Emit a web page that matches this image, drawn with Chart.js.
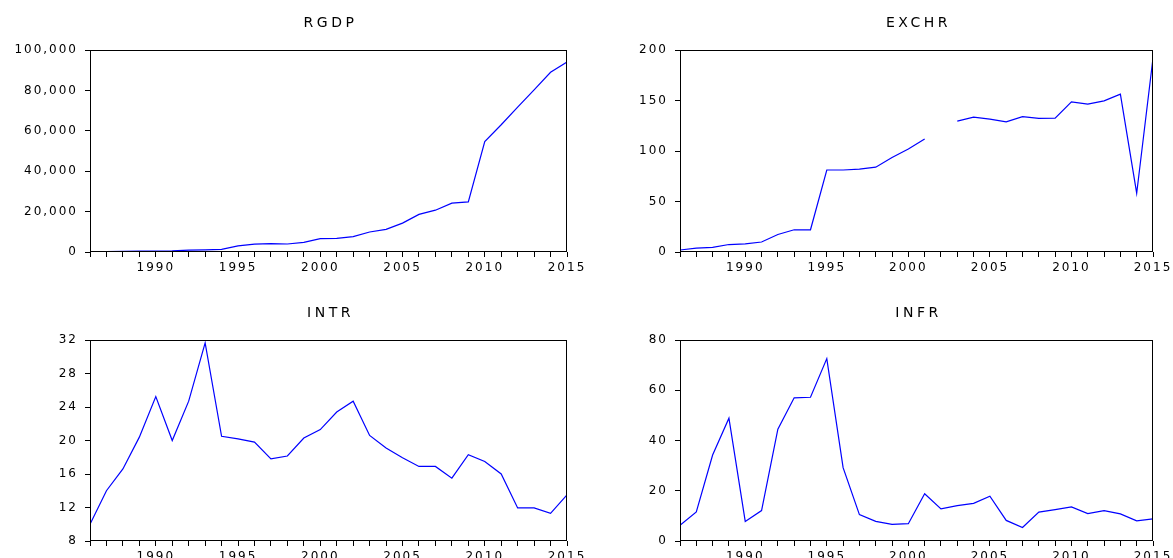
<!DOCTYPE html>
<html>
<head>
    <title>RGDP, EXCHR, INTR, INFR</title>
    <script src="https://cdn.jsdelivr.net/npm/chart.js"></script>
    <style>
        body { margin: 0; background: #fff; overflow: hidden; width: 1173px; height: 558px; position: relative; }
        .panel { position: absolute; }
        #box-rgdp  { left: 0;     top: 0;     width: 586px; height: 279px; }
        #box-exchr { left: 590px; top: 0;     width: 583px; height: 279px; }
        #box-intr  { left: 0;     top: 290px; width: 586px; height: 278px; }
        #box-infr  { left: 590px; top: 290px; width: 583px; height: 278px; }
    </style>
</head>
<body>
    <div class="panel" id="box-rgdp"><canvas id="rgdp"></canvas></div>
    <div class="panel" id="box-exchr"><canvas id="exchr"></canvas></div>
    <div class="panel" id="box-intr"><canvas id="intr"></canvas></div>
    <div class="panel" id="box-infr"><canvas id="infr"></canvas></div>

    <script>
    // years on the x axis
    const years = [1986, 1987, 1988, 1989, 1990, 1991, 1992, 1993, 1994, 1995,
                   1996, 1997, 1998, 1999, 2000, 2001, 2002, 2003, 2004, 2005,
                   2006, 2007, 2008, 2009, 2010, 2011, 2012, 2013, 2014, 2015];

    // series
    const rgdp = [200, 250, 320, 420, 500, 600, 900, 1100, 1300, 3000,
                  3900, 4100, 3950, 4800, 6600, 6700, 7600, 9900, 11200, 14300,
                  18600, 20700, 24200, 24800, 54700, 63000, 71700, 80300, 89000, 94100];
    const exchr = [2.0, 3.8, 4.5, 7.4, 8.0, 9.9, 17.3, 22.0, 22.0, 81.2,
                   81.2, 82.0, 84.0, 93.5, 102.0, 111.9, null, 129.6, 133.5, 131.6,
                   128.9, 134.0, 132.4, 132.6, 148.7, 146.4, 149.7, 156.3, 58.2, 192.0];
    const intr = [10.0, 14.0, 16.6, 20.4, 25.25, 20.0, 24.7, 31.65, 20.5, 20.2,
                  19.8, 17.8, 18.15, 20.3, 21.3, 23.4, 24.7, 20.6, 19.1, 17.95,
                  16.9, 16.9, 15.5, 18.3, 17.5, 16.0, 11.95, 11.95, 11.3, 13.5];
    const infr = [6.3, 11.6, 34.2, 48.9, 7.8, 12.1, 44.5, 57.0, 57.2, 72.6,
                  29.2, 10.5, 7.8, 6.6, 6.9, 18.8, 12.8, 14.1, 15.0, 17.8,
                  8.2, 5.4, 11.5, 12.5, 13.6, 10.9, 12.1, 10.8, 8.0, 8.8];

    // y axis tick setup per panel
    const rgdpTicks  = { min: 0, max: 100000, step: 20000 };
    const exchrTicks = { min: 0, max: 200, step: 50 };
    const intrTicks  = { min: 8, max: 32, step: 4 };
    const infrTicks  = { min: 0, max: 80, step: 20 };

    const fontFamily = 'DejaVu Sans, Arial, sans-serif';

    // eviews style text is stretched wide, approximate with letter spacing
    const spacing = {
        id: 'spacing',
        beforeLayout(chart) { chart.ctx.letterSpacing = '2px'; },
        beforeDraw(chart) { chart.ctx.letterSpacing = '2px'; }
    };

    // box around the plot area
    const frame = {
        id: 'frame',
        afterDraw(chart) {
            const a = chart.chartArea;
            const ctx = chart.ctx;
            ctx.save();
            ctx.strokeStyle = '#000';
            ctx.lineWidth = 1;
            ctx.strokeRect(Math.round(a.left) + 0.5, Math.round(a.top) + 0.5,
                           Math.round(a.right - a.left) - 1, Math.round(a.bottom - a.top) - 1);
            ctx.restore();
        }
    };

    // title centred over the plot area
    const panelTitle = {
        id: 'panelTitle',
        afterDraw(chart, args, opts) {
            const a = chart.chartArea;
            const ctx = chart.ctx;
            ctx.save();
            ctx.letterSpacing = '3.5px';
            ctx.font = '14px ' + fontFamily;
            ctx.fillStyle = '#000';
            ctx.textAlign = 'center';
            ctx.textBaseline = 'middle';
            ctx.fillText(opts.text, (a.left + a.right) / 2 + 2, 23);
            ctx.restore();
        }
    };

    function drawPanel(id, title, values, yt, rightPad) {
        const ctx = document.getElementById(id).getContext('2d');
        return new Chart(ctx, {
            type: 'line',
            data: {
                datasets: [{
                    label: title,
                    data: years.map((yr, i) => ({ x: yr, y: values[i] })),
                    borderColor: '#0000ff',
                    borderWidth: 1.2,
                    pointRadius: 0,
                    tension: 0,
                    spanGaps: false,
                    fill: false
                }]
            },
            options: {
                responsive: true,
                maintainAspectRatio: false,
                animation: false,
                layout: { padding: { left: 0, right: rightPad, top: 50, bottom: 0 } },
                plugins: {
                    legend: { display: false },
                    tooltip: { enabled: false },
                    title: { display: false },
                    panelTitle: { text: title }
                },
                scales: {
                    x: {
                        type: 'linear',
                        min: 1986,
                        max: 2015,
                        border: { display: false },
                        grid: { drawOnChartArea: false, drawTicks: true, tickLength: 5, color: '#000' },
                        ticks: {
                            stepSize: 1,
                            autoSkip: false,
                            maxRotation: 0,
                            padding: 4,
                            color: '#000',
                            font: { family: fontFamily, size: 12 },
                            callback: v => (v % 5 === 0 ? String(v) : '')
                        },
                        afterFit: s => { s.height = 27; s.paddingLeft = 0; s.paddingRight = 0; }
                    },
                    y: {
                        min: yt.min,
                        max: yt.max,
                        border: { display: false },
                        grid: { drawOnChartArea: false, drawTicks: true, tickLength: 5, color: '#000' },
                        ticks: {
                            stepSize: yt.step,
                            padding: 7,
                            color: '#000',
                            font: { family: fontFamily, size: 12 },
                            callback: v => v.toLocaleString('en-US')
                        },
                        afterFit: s => { s.width = 90; s.paddingTop = 0; s.paddingBottom = 0; }
                    }
                }
            },
            plugins: [spacing, frame, panelTitle]
        });
    }

    drawPanel('rgdp', 'RGDP', rgdp, rgdpTicks, 19);
    drawPanel('exchr', 'EXCHR', exchr, exchrTicks, 20);
    drawPanel('intr', 'INTR', intr, intrTicks, 19);
    drawPanel('infr', 'INFR', infr, infrTicks, 20);
    </script>
</body>
</html>
